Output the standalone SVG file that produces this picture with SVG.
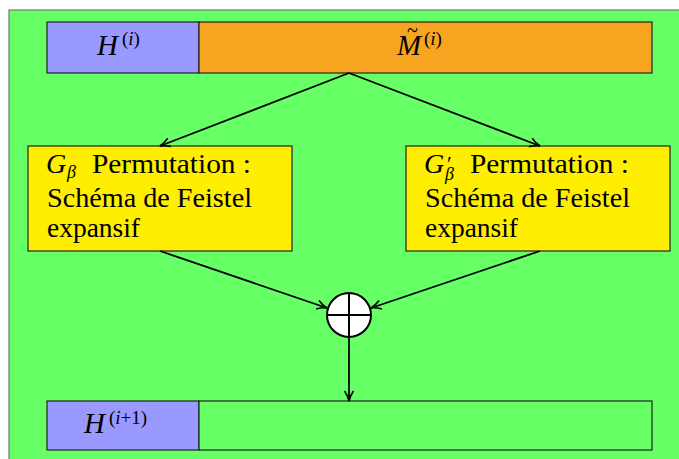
<svg xmlns="http://www.w3.org/2000/svg" width="679" height="459" viewBox="0 0 679 459">
<defs>
<marker id="ah" viewBox="0 0 12 12" refX="11" refY="6" markerWidth="12" markerHeight="12" markerUnits="userSpaceOnUse" orient="auto">
<path d="M1,1.5 Q6,5 11,6 Q6,7 1,10.5" fill="none" stroke="#000" stroke-width="1.6"/>
</marker>
</defs>
<style>
.bx{stroke:#222;stroke-width:1.2}
.t{font-family:"Liberation Serif",serif;fill:#000}
.i{font-style:italic}
.c{stroke:#000;stroke-width:1.8;fill:none}
</style>
<rect x="0" y="0" width="679" height="459" fill="#fff"/>
<rect x="9" y="10" width="675" height="455" fill="#66ff66" stroke="#777" stroke-width="1.2"/>
<g id="top">
<rect class="bx" x="47" y="22" width="152" height="51" fill="#9999ff"/>
<rect class="bx" x="199" y="22" width="453" height="51" fill="#f7a520"/>
<text class="t i" x="97" y="55" font-size="29">H</text>
<text class="t" x="122" y="45" font-size="19">(<tspan class="i">i</tspan>)</text>
<text class="t i" x="397" y="55" font-size="29">M</text>
<text class="t" x="407" y="37" font-size="20">~</text>
<text class="t" x="424" y="45" font-size="19">(<tspan class="i">i</tspan>)</text>
</g>
<g id="gb">
<rect class="bx" x="28" y="146" width="264" height="105" fill="#ffee00"/>
<text class="t i" x="46" y="173" font-size="28">G</text>
<text class="t i" x="67" y="178" font-size="18">β</text>
<text class="t" x="92" y="173" font-size="28" textLength="159" lengthAdjust="spacingAndGlyphs">Permutation :</text>
<text class="t" x="47" y="207" font-size="28" textLength="205" lengthAdjust="spacingAndGlyphs">Schéma de Feistel</text>
<text class="t" x="47" y="237" font-size="28" textLength="93" lengthAdjust="spacingAndGlyphs">expansif</text>
</g>
<g id="gbp">
<rect class="bx" x="406" y="146" width="264" height="105" fill="#ffee00"/>
<text class="t i" x="424" y="173" font-size="28">G</text>
<text class="t" x="447" y="171" font-size="22">′</text>
<text class="t i" x="445" y="180" font-size="18">β</text>
<text class="t" x="470" y="173" font-size="28" textLength="159" lengthAdjust="spacingAndGlyphs">Permutation :</text>
<text class="t" x="425" y="207" font-size="28" textLength="205" lengthAdjust="spacingAndGlyphs">Schéma de Feistel</text>
<text class="t" x="425" y="237" font-size="28" textLength="93" lengthAdjust="spacingAndGlyphs">expansif</text>
</g>
<g id="xor">
<circle cx="349" cy="315" r="22" fill="#fff" stroke="#000" stroke-width="2"/>
<line x1="327" y1="315" x2="371" y2="315" stroke="#000" stroke-width="2"/>
<line x1="349" y1="293" x2="349" y2="337" stroke="#000" stroke-width="2"/>
</g>
<g id="bottom">
<rect class="bx" x="47" y="401" width="152" height="49" fill="#9999ff"/>
<rect class="bx" x="199" y="401" width="453" height="49" fill="#66ff66"/>
<text class="t i" x="84" y="433" font-size="29">H</text>
<text class="t" x="109" y="424" font-size="19">(<tspan class="i">i</tspan>+1)</text>
</g>
<g id="connectors">
<line class="c" x1="349" y1="73" x2="160" y2="146" marker-end="url(#ah)"/>
<line class="c" x1="349" y1="73" x2="540" y2="146" marker-end="url(#ah)"/>
<line class="c" x1="160" y1="251" x2="327" y2="308" marker-end="url(#ah)"/>
<line class="c" x1="540" y1="251" x2="371" y2="308" marker-end="url(#ah)"/>
<line class="c" x1="349" y1="337" x2="349" y2="401" marker-end="url(#ah)"/>
</g>
</svg>
